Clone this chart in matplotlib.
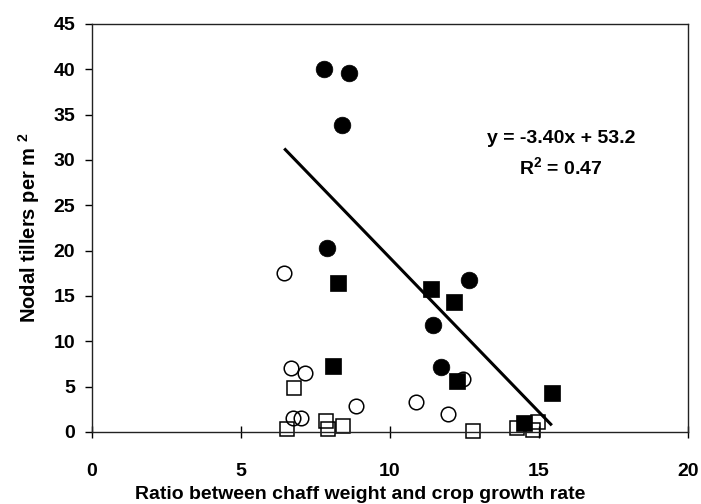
import matplotlib
matplotlib.use("Agg")
import matplotlib.pyplot as plt
import numpy as np

# ---- data ----
filled_circle_x = [7.80, 8.62, 8.40, 7.90, 12.66, 11.43, 11.71]
filled_circle_y = [40.0, 39.6, 33.9, 20.25, 16.76, 11.76, 7.13]
filled_square_x = [8.24, 11.38, 12.16, 8.08, 12.26, 15.43, 14.48]
filled_square_y = [16.4, 15.77, 14.33, 7.28, 5.66, 4.33, 1.0]
open_circle_x = [6.45, 6.67, 7.15, 6.76, 7.00, 8.85, 10.86, 11.93, 12.46]
open_circle_y = [17.5, 7.02, 6.47, 1.5, 1.5, 2.9, 3.27, 1.98, 5.9]
open_square_x = [6.79, 6.55, 7.85, 7.93, 8.41, 12.77, 14.25, 14.81, 14.98]
open_square_y = [4.82, 0.33, 1.25, 0.33, 0.70, 0.11, 0.40, 0.20, 1.07]

slope = -3.40
intercept = 53.2
r2 = 0.47

x_ticks = [0, 5, 10, 15, 20]
y_ticks = [0, 5, 10, 15, 20, 25, 30, 35, 40, 45]

# ---- style ----
plt.rcParams['font.family'] = ['Liberation Sans', 'DejaVu Sans']
plt.rcParams['font.weight'] = 'bold'
plt.rcParams['mathtext.fontset'] = 'custom'
plt.rcParams['mathtext.rm'] = 'Liberation Sans:bold'
plt.rcParams['mathtext.bf'] = 'Liberation Sans:bold'
plt.rcParams['mathtext.it'] = 'Liberation Sans:bold'

fig = plt.figure(figsize=(7.01, 5.04), dpi=100)
ax = fig.add_axes([92/701, 72/504, 596/701, 408/504])

# open markers first
ax.plot(open_circle_x, open_circle_y, linestyle='none', marker='o', markersize=10.5,
        markerfacecolor='none', markeredgecolor='black', markeredgewidth=1.1, clip_on=False)
ax.plot(open_square_x, open_square_y, linestyle='none', marker='s', markersize=10.5,
        markerfacecolor='none', markeredgecolor='black', markeredgewidth=1.1, clip_on=False)
# filled markers
ax.plot(filled_circle_x, filled_circle_y, linestyle='none', marker='o', markersize=12,
        markerfacecolor='black', markeredgecolor='black', markeredgewidth=0.5, clip_on=False)
ax.plot(filled_square_x, filled_square_y, linestyle='none', marker='s', markersize=11.5,
        markerfacecolor='black', markeredgecolor='black', markeredgewidth=0.5, clip_on=False)

# regression line over data range
all_x = np.array(filled_circle_x + filled_square_x + open_circle_x + open_square_x)
lx = np.array([all_x.min(), all_x.max()])
ax.plot(lx, slope * lx + intercept, color='black', linewidth=2.2, solid_capstyle='butt')

ax.text(15.76, 32.4, f"y = {slope:.2f}x + {intercept:.1f}", ha='center', va='center',
        fontsize=14, fontweight='bold')
ax.text(15.74, 29.2, f"R$^{{2}}$ = {r2:.2f}", ha='center', va='center',
        fontsize=14, fontweight='bold')

ax.set_xlim(0, 20)
ax.set_ylim(0, 45)
ax.set_xticks(x_ticks)
ax.set_yticks(y_ticks)
ax.tick_params(axis='x', direction='inout', length=9, width=1, pad=18, labelsize=14)
ax.tick_params(axis='y', direction='out', length=5, width=1, pad=7, labelsize=14)
for lab in ax.get_xticklabels() + ax.get_yticklabels():
    lab.set_fontweight('bold')
for sp in ax.spines.values():
    sp.set_linewidth(1.0)
    sp.set_color('#222222')

ax.set_xlabel("Ratio between chaff weight and crop growth rate", fontsize=14,
              fontweight='bold')
ax.xaxis.set_label_coords(0.45, -0.153)
ax.xaxis.label.set_va('center')
ax.set_ylabel("Nodal tillers per m $^{2}$", fontsize=14.5, fontweight='bold', labelpad=8)

fig.savefig("out.png", dpi=100)
